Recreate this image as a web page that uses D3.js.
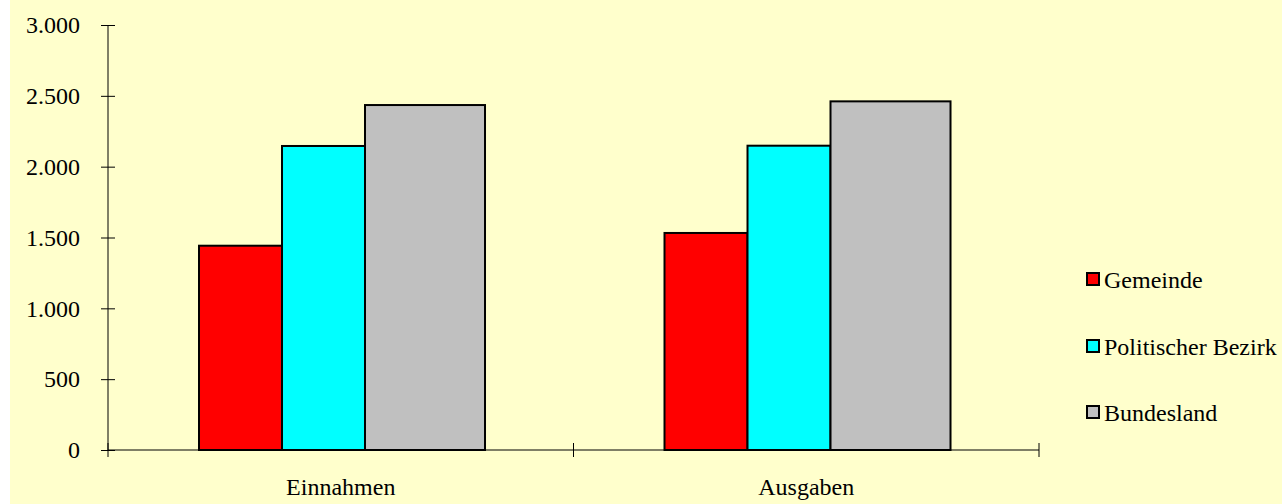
<!DOCTYPE html>
<html>
<head>
<meta charset="utf-8">
<script src="https://cdn.jsdelivr.net/npm/d3@7"></script>
<style>
  html, body { margin: 0; padding: 0; background: #ffffff; }
  svg { display: block; }
  text { font-family: "Liberation Serif", "Times New Roman", serif; fill: #000; }
</style>
</head>
<body>
<svg id="chart" width="1282" height="504"></svg>
<script>
const categories = ["Einnahmen", "Ausgaben"];
const seriesNames = ["Gemeinde", "Politischer Bezirk", "Bundesland"];
const gemeinde = [1442, 1532];
const politischerBezirk = [2146, 2148];
const bundesland = [2435, 2461];
const yTicks = [0, 500, 1000, 1500, 2000, 2500, 3000];

const seriesValues = [gemeinde, politischerBezirk, bundesland];
const colors = ["#ff0000", "#00ffff", "#c0c0c0"];
const widthWeights = [83, 83, 120];
const fontSize = 24;

const svg = d3.select("#chart");
svg.append("rect").attr("x", 10).attr("y", 0).attr("width", 1272).attr("height", 504).attr("fill", "#ffffcc");

const mLeft = 108, mRight = 1039, mTop = 25, mBottom = 450;
const x = d3.scaleBand().domain(categories).range([mLeft, mRight]).padding(0);
const y = d3.scaleLinear().domain([0, 3000]).range([mBottom, mTop]);

const loc = d3.formatLocale({decimal: ",", thousands: ".", grouping: [3], currency: ["", "€"]});
const fmt = loc.format(",d");

// bars
const groupOffset = 0.1955, groupFrac = 0.6144;
const totalW = d3.sum(widthWeights);
const cum = widthWeights.map((w, i) => d3.sum(widthWeights.slice(0, i)) / totalW);

categories.forEach((cat, ci) => {
  const bw = x.bandwidth();
  const gx = x(cat) + bw * groupOffset;
  const gw = bw * groupFrac;
  seriesValues.forEach((vals, si) => {
    const bx = gx + gw * cum[si];
    const w = gw * widthWeights[si] / totalW;
    svg.append("rect")
      .attr("x", bx).attr("y", y(vals[ci]))
      .attr("width", w).attr("height", y(0) - y(vals[ci]))
      .attr("fill", colors[si]).attr("stroke", "#000").attr("stroke-width", 2);
  });
});

// y axis
const yAxis = svg.append("g").attr("transform", `translate(${mLeft},0)`)
  .call(d3.axisLeft(y).tickValues(yTicks).tickFormat(fmt).tickSize(7).tickPadding(20));
yAxis.select(".domain").attr("stroke", "#000").attr("d", `M0,${mTop}V${mBottom}`);
yAxis.selectAll(".tick line").attr("x1", -7).attr("x2", 7).attr("stroke", "#000");
yAxis.selectAll(".tick text").attr("font-size", fontSize).attr("font-family", "Liberation Serif").attr("fill", "#000").attr("dx", -1);

// x axis
const xAxis = svg.append("g").attr("transform", `translate(0,${mBottom})`);
xAxis.append("line").attr("x1", mLeft).attr("x2", mRight).attr("stroke", "#000").attr("stroke-width", 1);
const xTickPos = [mLeft, ...categories.map(c => x(c) + x.bandwidth())];
xTickPos.forEach(p => {
  xAxis.append("line").attr("x1", p).attr("x2", p).attr("y1", -7).attr("y2", 7).attr("stroke", "#000");
});
categories.forEach(c => {
  xAxis.append("text").attr("x", x(c) + x.bandwidth() / 2).attr("y", 45)
    .attr("text-anchor", "middle").attr("font-size", fontSize).text(c);
});

// legend
const legendY = [280, 347, 413];
seriesNames.forEach((n, i) => {
  svg.append("rect").attr("x", 1087).attr("y", legendY[i] - 7).attr("width", 12).attr("height", 12)
    .attr("fill", colors[i]).attr("stroke", "#000").attr("stroke-width", 2);
  svg.append("text").attr("x", 1104).attr("y", legendY[i] + 8).attr("font-size", fontSize).text(n);
});
</script>
</body>
</html>
